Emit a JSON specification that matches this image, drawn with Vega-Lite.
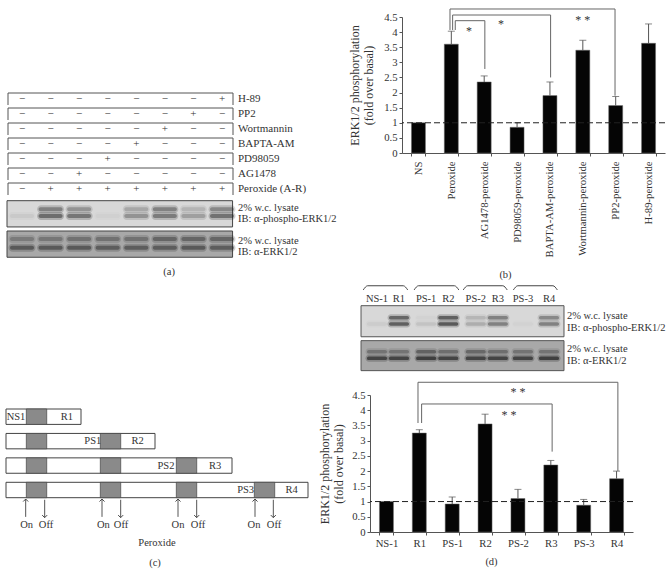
{
"$schema":"https://vega.github.io/schema/vega-lite/v6.json",
"padding":0,"background":"white","spacing":0,
"config":{"view":{"stroke":null},"text":{"font":"Liberation Serif","fontSize":10.5,"color":"#333"},
"axis":{"grid":false,"labelFont":"Liberation Serif","titleFont":"Liberation Serif","labelFontSize":10.7,"titleFontSize":12,"titleFontWeight":"normal","labelColor":"#333","titleColor":"#333","domainColor":"#555","tickColor":"#555","tickSize":3,"labelOverlap":false},
"title":{"font":"Liberation Serif","fontSize":10.5,"fontWeight":"normal","color":"#333"}},
"datasets":{
"aTable":[
{"row":0,"label":"H-89","l":0.51,"r":8.385,"top":-0.4,"bot":0.4,"anchor":8},
{"row":1,"label":"PP2","l":0.51,"r":8.385,"top":0.6,"bot":1.4,"anchor":8},
{"row":2,"label":"Wortmannin","l":0.51,"r":8.385,"top":1.6,"bot":2.4,"anchor":8},
{"row":3,"label":"BAPTA-AM","l":0.51,"r":8.385,"top":2.6,"bot":3.4,"anchor":8},
{"row":4,"label":"PD98059","l":0.51,"r":8.385,"top":3.6,"bot":4.4,"anchor":8},
{"row":5,"label":"AG1478","l":0.51,"r":8.385,"top":4.6,"bot":5.4,"anchor":8},
{"row":6,"label":"Peroxide (A-R)","l":0.51,"r":8.385,"top":5.6,"bot":6.4,"anchor":8}],
"aSigns":[
{"row":0,"lane":1,"s":"−"},{"row":0,"lane":2,"s":"−"},{"row":0,"lane":3,"s":"−"},{"row":0,"lane":4,"s":"−"},{"row":0,"lane":5,"s":"−"},{"row":0,"lane":6,"s":"−"},{"row":0,"lane":7,"s":"−"},{"row":0,"lane":8,"s":"+"},
{"row":1,"lane":1,"s":"−"},{"row":1,"lane":2,"s":"−"},{"row":1,"lane":3,"s":"−"},{"row":1,"lane":4,"s":"−"},{"row":1,"lane":5,"s":"−"},{"row":1,"lane":6,"s":"−"},{"row":1,"lane":7,"s":"+"},{"row":1,"lane":8,"s":"−"},
{"row":2,"lane":1,"s":"−"},{"row":2,"lane":2,"s":"−"},{"row":2,"lane":3,"s":"−"},{"row":2,"lane":4,"s":"−"},{"row":2,"lane":5,"s":"−"},{"row":2,"lane":6,"s":"+"},{"row":2,"lane":7,"s":"−"},{"row":2,"lane":8,"s":"−"},
{"row":3,"lane":1,"s":"−"},{"row":3,"lane":2,"s":"−"},{"row":3,"lane":3,"s":"−"},{"row":3,"lane":4,"s":"−"},{"row":3,"lane":5,"s":"+"},{"row":3,"lane":6,"s":"−"},{"row":3,"lane":7,"s":"−"},{"row":3,"lane":8,"s":"−"},
{"row":4,"lane":1,"s":"−"},{"row":4,"lane":2,"s":"−"},{"row":4,"lane":3,"s":"−"},{"row":4,"lane":4,"s":"+"},{"row":4,"lane":5,"s":"−"},{"row":4,"lane":6,"s":"−"},{"row":4,"lane":7,"s":"−"},{"row":4,"lane":8,"s":"−"},
{"row":5,"lane":1,"s":"−"},{"row":5,"lane":2,"s":"−"},{"row":5,"lane":3,"s":"+"},{"row":5,"lane":4,"s":"−"},{"row":5,"lane":5,"s":"−"},{"row":5,"lane":6,"s":"−"},{"row":5,"lane":7,"s":"−"},{"row":5,"lane":8,"s":"−"},
{"row":6,"lane":1,"s":"−"},{"row":6,"lane":2,"s":"+"},{"row":6,"lane":3,"s":"+"},{"row":6,"lane":4,"s":"+"},{"row":6,"lane":5,"s":"+"},{"row":6,"lane":6,"s":"+"},{"row":6,"lane":7,"s":"+"},{"row":6,"lane":8,"s":"+"}],
"aBlots":[{"blot":"phospho","l":0.475,"r":8.37,"top":6.78,"bot":8.53},{"blot":"total","l":0.475,"r":8.37,"top":8.8,"bot":10.55}],
"aBands":[
{"lane":1,"pos":7.35,"v":0},{"lane":2,"pos":7.35,"v":0.65},{"lane":3,"pos":7.35,"v":0.5},{"lane":4,"pos":7.35,"v":0},{"lane":5,"pos":7.35,"v":0.35},{"lane":6,"pos":7.35,"v":0.65},{"lane":7,"pos":7.35,"v":0.25},{"lane":8,"pos":7.35,"v":0.6},
{"lane":1,"pos":7.8,"v":0.1},{"lane":2,"pos":7.8,"v":0.85},{"lane":3,"pos":7.8,"v":0.75},{"lane":4,"pos":7.8,"v":0.05},{"lane":5,"pos":7.8,"v":0.5},{"lane":6,"pos":7.8,"v":0.7},{"lane":7,"pos":7.8,"v":0.4},{"lane":8,"pos":7.8,"v":0.8},
{"lane":1,"pos":9.33,"v":0.45},{"lane":2,"pos":9.33,"v":0.5},{"lane":3,"pos":9.33,"v":0.55},{"lane":4,"pos":9.33,"v":0.55},{"lane":5,"pos":9.33,"v":0.55},{"lane":6,"pos":9.33,"v":0.7},{"lane":7,"pos":9.33,"v":0.7},{"lane":8,"pos":9.33,"v":0.7},
{"lane":1,"pos":9.91,"v":0.85},{"lane":2,"pos":9.91,"v":0.85},{"lane":3,"pos":9.91,"v":0.85},{"lane":4,"pos":9.91,"v":0.8},{"lane":5,"pos":9.91,"v":0.8},{"lane":6,"pos":9.91,"v":0.8},{"lane":7,"pos":9.91,"v":0.85},{"lane":8,"pos":9.91,"v":0.8}],
"aText":[{"t":"2% w.c. lysate","row":7.25,"anchor":8},{"t":"IB: α-phospho-ERK1/2","row":8.0,"anchor":8},{"t":"2% w.c. lysate","row":9.47,"anchor":8},{"t":"IB: α-ERK1/2","row":10.18,"anchor":8}],
"bVals":[
{"s":"NS","v":1},{"s":"Peroxide","v":3.6,"top":4.03},{"s":"AG1478-peroxide","v":2.35,"top":2.55},{"s":"PD98059-peroxide","v":0.85,"top":1.0},{"s":"BAPTA-AM-peroxide","v":1.9,"top":2.35},{"s":"Wortmannin-peroxide","v":3.4,"top":3.73},{"s":"PP2-peroxide","v":1.57,"top":1.87},{"s":"H-89-peroxide","v":3.63,"top":4.27}],
"bBr":[
{"a":1.96,"b":6.98,"y":4.765,"y2":4.765},{"a":1.96,"b":1.96,"y":4.765,"y2":4.07},{"a":6.98,"b":6.98,"y":4.765,"y2":1.896},
{"a":2.04,"b":5.02,"y":4.566,"y2":4.566},{"a":2.04,"b":2.04,"y":4.566,"y2":4.07},{"a":5.02,"b":5.02,"y":4.566,"y2":2.5},
{"a":2.12,"b":3.02,"y":4.378,"y2":4.378},{"a":2.12,"b":2.12,"y":4.378,"y2":4.07},{"a":3.02,"b":3.02,"y":4.378,"y2":2.78}],
"bStars":[{"p":2.54,"y":4.136,"t":"*"},{"p":3.51,"y":4.378,"t":"*"},{"p":6.0,"y":4.51,"t":"* *"}],
"dVals":[
{"s":"NS-1","v":1},{"s":"R1","v":3.25,"top":3.36},{"s":"PS-1","v":0.92,"top":1.15},{"s":"R2","v":3.55,"top":3.87},{"s":"PS-2","v":1.1,"top":1.4},{"s":"R3","v":2.2,"top":2.35},{"s":"PS-3","v":0.88,"top":1.07},{"s":"R4","v":1.75,"top":2.0}],
"dBr":[
{"a":1.96,"b":8.04,"y":4.918,"y2":4.918},{"a":1.96,"b":1.96,"y":4.918,"y2":3.58},{"a":8.04,"b":8.04,"y":4.918,"y2":2.0},
{"a":2.07,"b":6.04,"y":4.205,"y2":4.205},{"a":2.07,"b":2.07,"y":4.205,"y2":3.58},{"a":6.04,"b":6.04,"y":4.205,"y2":2.64}],
"dStars":[{"p":5.0,"y":4.7,"t":"* *"},{"p":4.73,"y":3.95,"t":"* *"}],
"eBlots":[{"blot":"phospho","l":0.35,"r":8.61,"top":1.38,"bot":3.45},{"blot":"total","l":0.35,"r":8.61,"top":3.71,"bot":5.71}],
"eBands":[
{"lane":1,"pos":2.18,"v":0},{"lane":1.895,"pos":2.18,"v":0.75},{"lane":3,"pos":2.18,"v":0.03},{"lane":3.9,"pos":2.18,"v":0.8},{"lane":5.02,"pos":2.18,"v":0.2},{"lane":5.92,"pos":2.18,"v":0.55},{"lane":6.94,"pos":2.18,"v":0},{"lane":8,"pos":2.18,"v":0.5},
{"lane":1,"pos":2.6,"v":0.07},{"lane":1.895,"pos":2.6,"v":0.8},{"lane":3,"pos":2.6,"v":0.12},{"lane":3.9,"pos":2.6,"v":0.85},{"lane":5.02,"pos":2.6,"v":0.25},{"lane":5.92,"pos":2.6,"v":0.55},{"lane":6.94,"pos":2.6,"v":0.03},{"lane":8,"pos":2.6,"v":0.55},
{"lane":1,"pos":4.45,"v":0.45},{"lane":1.895,"pos":4.45,"v":0.45},{"lane":3,"pos":4.45,"v":0.6},{"lane":3.9,"pos":4.45,"v":0.5},{"lane":5.02,"pos":4.45,"v":0.55},{"lane":5.92,"pos":4.45,"v":0.5},{"lane":6.94,"pos":4.45,"v":0.45},{"lane":8,"pos":4.45,"v":0.45},
{"lane":1,"pos":4.89,"v":0.95},{"lane":1.895,"pos":4.89,"v":0.95},{"lane":3,"pos":4.89,"v":1},{"lane":3.9,"pos":4.89,"v":0.95},{"lane":5.02,"pos":4.89,"v":0.95},{"lane":5.92,"pos":4.89,"v":0.95},{"lane":6.94,"pos":4.89,"v":0.95},{"lane":8,"pos":4.89,"v":1}],
"eLanes":[{"t":"NS-1","lane":1},{"t":"R1","lane":1.895},{"t":"PS-1","lane":3},{"t":"R2","lane":3.9},{"t":"PS-2","lane":5.02},{"t":"R3","lane":5.92},{"t":"PS-3","lane":6.94},{"t":"R4","lane":8}],
"eBrace":[
{"g":1,"lane":0.44,"pos":0.33},{"g":1,"lane":0.62,"pos":0.05},{"g":1,"lane":2.07,"pos":0.05},{"g":1,"lane":2.25,"pos":0.33},
{"g":2,"lane":2.51,"pos":0.33},{"g":2,"lane":2.69,"pos":0.05},{"g":2,"lane":4.15,"pos":0.05},{"g":2,"lane":4.33,"pos":0.33},
{"g":3,"lane":4.51,"pos":0.33},{"g":3,"lane":4.69,"pos":0.05},{"g":3,"lane":6.12,"pos":0.05},{"g":3,"lane":6.3,"pos":0.33},
{"g":4,"lane":6.55,"pos":0.33},{"g":4,"lane":6.73,"pos":0.05},{"g":4,"lane":8.16,"pos":0.05},{"g":4,"lane":8.34,"pos":0.33}],
"eText":[{"t":"2% w.c. lysate","pos":2.07,"anchor":8},{"t":"IB: α-phospho-ERK1/2","pos":2.85,"anchor":8},{"t":"2% w.c. lysate","pos":4.27,"anchor":8},{"t":"IB: α-ERK1/2","pos":5.07,"anchor":8}],
"cTracks":[{"a":1.5,"b":20.25,"track":1,"t0":0.685,"t1":1.315},{"a":1.5,"b":38.75,"track":2,"t0":1.685,"t1":2.315},{"a":1.5,"b":58,"track":3,"t0":2.685,"t1":3.315},{"a":1.5,"b":77,"track":4,"t0":3.685,"t1":4.315}],
"cOn":[
{"a":6.58,"b":11.68,"t0":0.685,"t1":1.315},
{"a":6.58,"b":11.68,"t0":1.685,"t1":2.315},{"a":25.08,"b":30.18,"t0":1.685,"t1":2.315},
{"a":6.58,"b":11.68,"t0":2.685,"t1":3.315},{"a":25.08,"b":30.18,"t0":2.685,"t1":3.315},{"a":44.08,"b":49.18,"t0":2.685,"t1":3.315},
{"a":6.58,"b":11.68,"t0":3.685,"t1":4.315},{"a":25.08,"b":30.18,"t0":3.685,"t1":4.315},{"a":44.08,"b":49.18,"t0":3.685,"t1":4.315},{"a":63.58,"b":68.68,"t0":3.685,"t1":4.315}],
"cText":[
{"t":"NS1","x":4,"y":1},{"t":"R1","x":16.7,"y":1},{"t":"PS1","x":23.2,"y":2},{"t":"R2","x":34.4,"y":2},{"t":"PS2","x":41.5,"y":3},{"t":"R3","x":53.75,"y":3},{"t":"PS3","x":61.4,"y":4},{"t":"R4","x":72.9,"y":4},
{"t":"On","x":6.67,"y":5.43},{"t":"Off","x":11.5,"y":5.43},{"t":"On","x":25.83,"y":5.43},{"t":"Off","x":30.25,"y":5.43},{"t":"On","x":44.5,"y":5.43},{"t":"Off","x":49.5,"y":5.43},{"t":"On","x":63.5,"y":5.43},{"t":"Off","x":68.5,"y":5.43},
{"t":"Peroxide","x":39.25,"y":6.17},{"t":"(c)","x":38.75,"y":6.98}],
"cUp":[{"x":6.42},{"x":25.5},{"x":44.5},{"x":63.75}],
"cDown":[{"x":11.17},{"x":30.17},{"x":49.17},{"x":68.33}]
},
"vconcat":[
{"bounds":"flush","spacing":62,"hconcat":[
{"width":340,"height":283,
"layer":[
{"data":{"name":"aTable"},"mark":{"type":"rule","color":"#555"},"encoding":{"x":{"field":"l","type":"quantitative","axis":null,"scale":{"domain":[1,8],"range":[22,222],"nice":false,"zero":false}},"x2":{"field":"r"},"y":{"field":"top","type":"quantitative","axis":null,"scale":{"domain":[0,6],"range":[99,189],"nice":false,"zero":false}}}},
{"data":{"name":"aTable"},"mark":{"type":"rule","color":"#555"},"encoding":{"x":{"field":"l","type":"quantitative","axis":null},"y":{"field":"top","type":"quantitative","axis":null},"y2":{"field":"bot"}}},
{"data":{"name":"aTable"},"mark":{"type":"rule","color":"#555"},"encoding":{"x":{"field":"r","type":"quantitative","axis":null},"y":{"field":"top","type":"quantitative","axis":null},"y2":{"field":"bot"}}},
{"data":{"name":"aTable"},"mark":{"type":"text","align":"left","dx":16,"fontSize":11},"encoding":{"x":{"field":"anchor","type":"quantitative","axis":null},"y":{"field":"row","type":"quantitative","axis":null},"text":{"field":"label"}}},
{"data":{"name":"aSigns"},"mark":{"type":"text","fontSize":11},"encoding":{"x":{"field":"lane","type":"quantitative","axis":null},"y":{"field":"row","type":"quantitative","axis":null},"text":{"field":"s"}}},
{"data":{"name":"aBlots"},"mark":{"type":"rect","stroke":"#444","strokeWidth":1},"encoding":{"x":{"field":"l","type":"quantitative","axis":null},"x2":{"field":"r"},"y":{"field":"top","type":"quantitative","axis":null},"y2":{"field":"bot"},"fill":{"field":"blot","type":"nominal","legend":null,"scale":{"domain":["phospho","total"],"range":["#d8d8d8","#a8a8a8"]}}}},
{"data":{"name":"aBands"},"mark":{"type":"rect","width":27,"height":8,"fill":"#333","cornerRadius":4},"encoding":{"x":{"field":"lane","type":"quantitative","axis":null},"y":{"field":"pos","type":"quantitative","axis":null},"opacity":{"field":"v","type":"quantitative","legend":null,"scale":{"domain":[0,1],"range":[0,0.3]}}}},
{"data":{"name":"aBands"},"mark":{"type":"rect","width":24,"height":4,"fill":"#222","cornerRadius":2},"encoding":{"x":{"field":"lane","type":"quantitative","axis":null},"y":{"field":"pos","type":"quantitative","axis":null},"opacity":{"field":"v","type":"quantitative","legend":null,"scale":{"domain":[0,1],"range":[0,0.55]}}}},
{"data":{"name":"aText"},"mark":{"type":"text","align":"left","dx":16},"encoding":{"x":{"field":"anchor","type":"quantitative","axis":null},"y":{"field":"row","type":"quantitative","axis":null},"text":{"field":"t"}}},
{"data":{"values":[{"t":"(a)","lane":6.15,"row":11.51}]},"mark":{"type":"text"},"encoding":{"x":{"field":"lane","type":"quantitative","axis":null},"y":{"field":"row","type":"quantitative","axis":null},"text":{"field":"t"}}}
],
"resolve":{"scale":{"opacity":"independent"}}
},
{"width":263,"height":153,
"title":{"text":"(b)","orient":"bottom","offset":13,"dx":-28},
"layer":[
{"layer":[
{"data":{"name":"bVals"},"mark":{"type":"bar","fill":"#050505","stroke":"#666","strokeWidth":0.5},"encoding":{
"x":{"field":"s","type":"nominal","sort":null,"title":null,"scale":{"paddingInner":0.575,"paddingOuter":0.2875},"axis":{"labelAngle":-90,"tickBand":"extent","labelPadding":5,"tickSize":3}},
"y":{"field":"v","type":"quantitative","scale":{"domain":[0,4.5],"range":[153,17],"nice":false},"axis":{"values":[0,0.5,1,1.5,2,2.5,3,3.5,4,4.5],"format":"~g","title":["ERK1/2 phosphorylation","(fold over basal)"],"titlePadding":8}}}},
{"data":{"name":"bVals"},"transform":[{"filter":"isValid(datum.top)"}],"mark":{"type":"rule","color":"#555"},"encoding":{"x":{"field":"s","type":"nominal","sort":null,"axis":null},"y":{"field":"v","type":"quantitative","axis":null},"y2":{"field":"top"}}},
{"data":{"name":"bVals"},"transform":[{"filter":"isValid(datum.top)"}],"mark":{"type":"tick","color":"#555","size":7,"thickness":1},"encoding":{"x":{"field":"s","type":"nominal","sort":null,"axis":null},"y":{"field":"top","type":"quantitative","axis":null}}},
{"data":{"values":[{"ref":1}]},"mark":{"type":"rule","color":"#222","strokeDash":[6,3]},"encoding":{"y":{"field":"ref","type":"quantitative","axis":null}}}
],"resolve":{"axis":{"y":"independent","x":"independent"}}},
{"layer":[
{"data":{"name":"bBr"},"mark":{"type":"rule","color":"#666"},"encoding":{"x":{"field":"a","type":"quantitative","axis":null,"scale":{"domain":[0.5,8.5],"nice":false,"zero":false}},"x2":{"field":"b"},"y":{"field":"y","type":"quantitative","axis":null},"y2":{"field":"y2"}}},
{"data":{"name":"bStars"},"mark":{"type":"text","fontSize":12,"dy":3},"encoding":{"x":{"field":"p","type":"quantitative","axis":null},"y":{"field":"y","type":"quantitative","axis":null},"text":{"field":"t"}}}
],"resolve":{"axis":{"y":"independent","x":"independent"}}}
],
"resolve":{"scale":{"x":"independent"},"axis":{"y":"independent"}}
}
]},
{"width":670,"height":95,
"layer":[
{"data":{"name":"eBrace"},"mark":{"type":"line","color":"#444","strokeWidth":1,"interpolate":"monotone"},"encoding":{"x":{"field":"lane","type":"quantitative","axis":null,"scale":{"domain":[1,8],"range":[377,549],"nice":false,"zero":false}},"y":{"field":"pos","type":"quantitative","axis":null,"scale":{"domain":[0,6],"range":[0,90],"nice":false,"zero":false}},"detail":{"field":"g"},"order":{"field":"lane"}}},
{"data":{"name":"eLanes"},"mark":{"type":"text"},"encoding":{"x":{"field":"lane","type":"quantitative","axis":null},"y":{"datum":0.93,"type":"quantitative","axis":null},"text":{"field":"t"}}},
{"data":{"name":"eBlots"},"mark":{"type":"rect","stroke":"#555","strokeWidth":1},"encoding":{"x":{"field":"l","type":"quantitative","axis":null},"x2":{"field":"r"},"y":{"field":"top","type":"quantitative","axis":null},"y2":{"field":"bot"},"fill":{"field":"blot","type":"nominal","legend":null,"scale":{"domain":["phospho","total"],"range":["#dcdcdc","#c8c8c8"]}}}},
{"data":{"name":"eBands"},"mark":{"type":"rect","width":23,"height":7,"fill":"#333","cornerRadius":3.5},"encoding":{"x":{"field":"lane","type":"quantitative","axis":null},"y":{"field":"pos","type":"quantitative","axis":null},"opacity":{"field":"v","type":"quantitative","legend":null,"scale":{"domain":[0,1],"range":[0,0.3]}}}},
{"data":{"name":"eBands"},"mark":{"type":"rect","width":20,"height":3.5,"fill":"#222","cornerRadius":1.7},"encoding":{"x":{"field":"lane","type":"quantitative","axis":null},"y":{"field":"pos","type":"quantitative","axis":null},"opacity":{"field":"v","type":"quantitative","legend":null,"scale":{"domain":[0,1],"range":[0,0.7]}}}},
{"data":{"name":"eText"},"mark":{"type":"text","align":"left","dx":18},"encoding":{"x":{"field":"anchor","type":"quantitative","axis":null},"y":{"field":"pos","type":"quantitative","axis":null},"text":{"field":"t"}}}
],
"resolve":{"scale":{"opacity":"independent"}}
},
{"bounds":"flush","spacing":35,"hconcat":[
{"width":335,"height":190,
"layer":[
{"data":{"name":"cTracks"},"mark":{"type":"rect","fill":"white","stroke":"#444","strokeWidth":1},"encoding":{"x":{"field":"a","type":"quantitative","axis":null,"scale":{"domain":[0,83.75],"nice":false,"zero":false}},"x2":{"field":"b"},"y":{"field":"t0","type":"quantitative","axis":null,"scale":{"domain":[1,4],"range":[36.7,110],"nice":false,"zero":false}},"y2":{"field":"t1"}}},
{"data":{"name":"cOn"},"mark":{"type":"rect","fill":"#8a8a8a","stroke":"#444","strokeWidth":0.7},"encoding":{"x":{"field":"a","type":"quantitative","axis":null},"x2":{"field":"b"},"y":{"field":"t0","type":"quantitative","axis":null},"y2":{"field":"t1"}}},
{"data":{"name":"cText"},"mark":{"type":"text"},"encoding":{"x":{"field":"x","type":"quantitative","axis":null},"y":{"field":"y","type":"quantitative","axis":null},"text":{"field":"t"}}},
{"data":{"name":"cUp"},"mark":{"type":"rule","color":"#555"},"encoding":{"x":{"field":"x","type":"quantitative","axis":null},"y":{"datum":4.37,"type":"quantitative","axis":null},"y2":{"datum":5.1}}},
{"data":{"name":"cDown"},"mark":{"type":"rule","color":"#555"},"encoding":{"x":{"field":"x","type":"quantitative","axis":null},"y":{"datum":4.4,"type":"quantitative","axis":null},"y2":{"datum":5.13}}},
{"data":{"name":"cUp"},"mark":{"type":"point","shape":"M-1,1L0,0L1,1","size":25,"filled":false,"stroke":"#444","strokeWidth":1,"opacity":1},"encoding":{"x":{"field":"x","type":"quantitative","axis":null},"y":{"datum":4.37,"type":"quantitative","axis":null}}},
{"data":{"name":"cDown"},"mark":{"type":"point","shape":"M-1,-1L0,0L1,-1","size":25,"filled":false,"stroke":"#444","strokeWidth":1,"opacity":1},"encoding":{"x":{"field":"x","type":"quantitative","axis":null},"y":{"datum":5.13,"type":"quantitative","axis":null}}}
]},
{"width":263,"height":152,
"title":{"text":"(d)","orient":"bottom","offset":9,"dx":-10},
"layer":[
{"layer":[
{"data":{"name":"dVals"},"mark":{"type":"bar","fill":"#050505","stroke":"#666","strokeWidth":0.5},"encoding":{
"x":{"field":"s","type":"nominal","sort":null,"title":null,"scale":{"paddingInner":0.575,"paddingOuter":0.2875},"axis":{"labelAngle":0,"tickBand":"extent","labelPadding":3,"tickSize":3}},
"y":{"field":"v","type":"quantitative","scale":{"domain":[0,4.5],"range":[152,15],"nice":false},"axis":{"values":[0,0.5,1,1.5,2,2.5,3,3.5,4,4.5],"format":"~g","title":["ERK1/2 phosphorylation","(fold over basal)"],"titlePadding":6}}}},
{"data":{"name":"dVals"},"transform":[{"filter":"isValid(datum.top)"}],"mark":{"type":"rule","color":"#555"},"encoding":{"x":{"field":"s","type":"nominal","sort":null,"axis":null},"y":{"field":"v","type":"quantitative","axis":null},"y2":{"field":"top"}}},
{"data":{"name":"dVals"},"transform":[{"filter":"isValid(datum.top)"}],"mark":{"type":"tick","color":"#555","size":7,"thickness":1},"encoding":{"x":{"field":"s","type":"nominal","sort":null,"axis":null},"y":{"field":"top","type":"quantitative","axis":null}}},
{"data":{"values":[{"ref":1}]},"mark":{"type":"rule","color":"#222","strokeDash":[6,3]},"encoding":{"y":{"field":"ref","type":"quantitative","axis":null}}}
],"resolve":{"axis":{"y":"independent","x":"independent"}}},
{"layer":[
{"data":{"name":"dBr"},"mark":{"type":"rule","color":"#666"},"encoding":{"x":{"field":"a","type":"quantitative","axis":null,"scale":{"domain":[0.5,8.5],"nice":false,"zero":false}},"x2":{"field":"b"},"y":{"field":"y","type":"quantitative","axis":null},"y2":{"field":"y2"}}},
{"data":{"name":"dStars"},"mark":{"type":"text","fontSize":12,"dy":3},"encoding":{"x":{"field":"p","type":"quantitative","axis":null},"y":{"field":"y","type":"quantitative","axis":null},"text":{"field":"t"}}}
],"resolve":{"axis":{"y":"independent","x":"independent"}}}
],
"resolve":{"scale":{"x":"independent"},"axis":{"y":"independent"}}
}
]}
]
}
